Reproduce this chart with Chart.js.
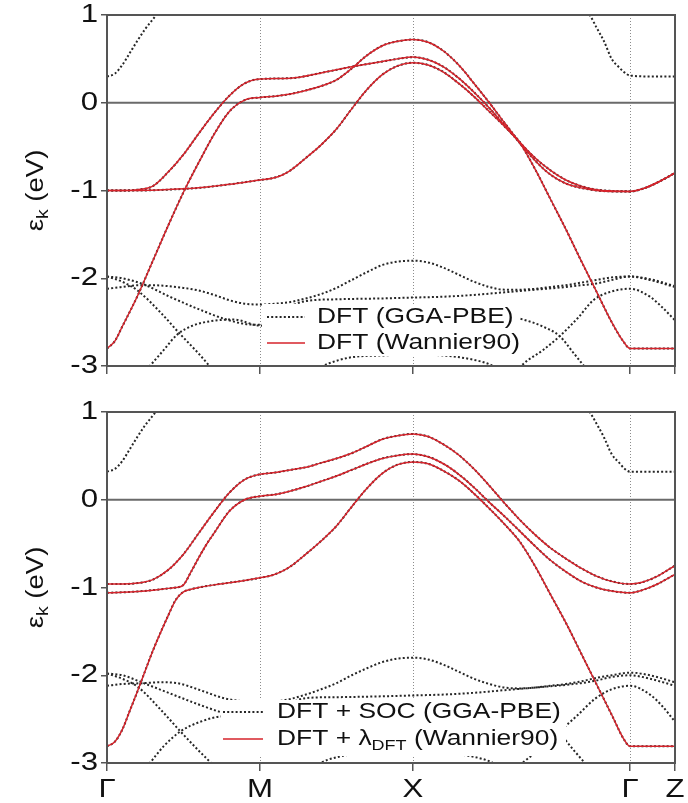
<!DOCTYPE html>
<html>
<head>
<meta charset="utf-8">
<title>Band structure</title>
<script src="https://cdn.jsdelivr.net/npm/chart.js@4.4.0/dist/chart.umd.min.js"></script>
<style>
  html, body { margin: 0; padding: 0; background: #fff; overflow: hidden; }
  canvas { display: block; }
</style>
</head>
<body>
<canvas id="bands-top" width="688" height="395"></canvas>
<canvas id="bands-bottom" width="688" height="408"></canvas>
<script>
// --- k-path and axes ---
const kTicks = [0, 1, 2, 3.42, 3.714];
const kLabels = ['Γ', 'M', 'X', 'Γ', 'Z'];
const yTicks = [-3, -2, -1, 0, 1];

// --- top panel: DFT (GGA-PBE), dotted ---
const topGgaC1 = [[0, 0.30], [0.05, 0.33], [0.1, 0.43], [0.15, 0.57], [0.2, 0.71], [0.25, 0.84], [0.3, 0.95], [0.35, 1.06]];
const topGgaC2 = [[3.12, 1.08], [3.16, 0.99], [3.2, 0.86], [3.25, 0.70], [3.3, 0.50], [3.35, 0.40], [3.38, 0.35], [3.42, 0.31], [3.55, 0.30], [3.714, 0.30]];
const topGgaV1 = [[0, -2.12], [0.1, -2.10], [0.2, -2.08], [0.3, -2.08], [0.4, -2.09], [0.5, -2.11], [0.6, -2.14], [0.7, -2.19], [0.8, -2.25], [0.9, -2.29], [1.0, -2.30], [1.1, -2.29], [1.2, -2.27], [1.3, -2.23], [1.4, -2.18], [1.5, -2.11], [1.6, -2.02], [1.7, -1.93], [1.8, -1.85], [1.9, -1.81], [2.0, -1.80], [2.1, -1.82], [2.2, -1.88], [2.3, -1.96], [2.4, -2.04], [2.5, -2.10], [2.6, -2.13], [2.7, -2.13], [2.8, -2.12], [2.9, -2.10], [3.0, -2.08], [3.1, -2.05], [3.2, -2.02], [3.3, -1.99], [3.42, -1.98], [3.55, -2.02], [3.714, -2.10]];
const topGgaV2 = [[0, -1.98], [0.1, -2.0], [0.24, -2.07], [0.41, -2.21], [0.61, -2.36], [0.78, -2.47], [0.9, -2.52], [1.0, -2.53], [1.1, -2.45], [1.2, -2.32], [1.3, -2.26], [1.5, -2.24], [1.8, -2.23], [2.0, -2.22], [2.2, -2.21], [2.4, -2.19], [2.6, -2.16], [2.8, -2.13], [3.0, -2.10], [3.1, -2.08], [3.2, -2.06], [3.3, -2.02], [3.42, -1.98], [3.55, -2.01], [3.714, -2.09]];
const topGgaV3 = [[0, -1.98], [0.1, -2.04], [0.2, -2.14], [0.35, -2.39], [0.48, -2.64], [0.6, -2.86], [0.68, -3.02], [0.72, -3.1]];
const topGgaV4 = [[0.24, -3.08], [0.28, -3.0], [0.37, -2.82], [0.46, -2.64], [0.56, -2.54], [0.675, -2.49], [0.83, -2.47], [1.0, -2.54], [1.5, -2.46], [2.0, -2.45], [2.3, -2.42], [2.6, -2.43], [2.72, -2.47], [2.85, -2.55], [2.96, -2.66], [3.05, -2.85], [3.11, -2.98], [3.15, -3.06]];
const topGgaV5 = [[2.68, -3.06], [2.72, -2.98], [2.85, -2.82], [2.96, -2.66], [3.08, -2.45], [3.18, -2.25], [3.3, -2.15], [3.42, -2.12], [3.55, -2.21], [3.63, -2.33], [3.714, -2.48]];
const topGgaV6 = [[1.35, -3.05], [1.45, -2.97], [1.6, -2.9], [1.8, -2.88], [2.0, -2.87], [2.2, -2.88], [2.4, -2.93], [2.5, -2.98], [2.58, -3.05]];

// --- top panel: DFT (Wannier90), red ---
const topWanA = [[0, -1.0], [0.1, -1.0], [0.2, -0.99], [0.3, -0.95], [0.4, -0.79], [0.5, -0.59], [0.6, -0.35], [0.7, -0.12], [0.8, 0.08], [0.9, 0.22], [1.0, 0.27], [1.2, 0.28], [1.4, 0.34], [1.6, 0.41], [1.8, 0.47], [1.9, 0.50], [2.0, 0.52], [2.1, 0.49], [2.2, 0.41], [2.3, 0.28], [2.4, 0.12], [2.5, -0.06], [2.6, -0.26], [2.7, -0.46], [2.8, -0.66], [2.9, -0.82], [3.0, -0.92], [3.1, -0.97], [3.2, -1.0], [3.3, -1.01], [3.42, -1.01], [3.52, -0.97], [3.62, -0.89], [3.714, -0.80]];
const topWanB = [[0, -2.8], [0.05, -2.72], [0.1, -2.55], [0.2, -2.2], [0.3, -1.8], [0.4, -1.4], [0.5, -1.02], [0.6, -0.68], [0.7, -0.36], [0.8, -0.10], [0.9, 0.03], [1.0, 0.06], [1.1, 0.075], [1.2, 0.10], [1.3, 0.14], [1.4, 0.19], [1.5, 0.26], [1.6, 0.39], [1.7, 0.54], [1.8, 0.65], [1.9, 0.70], [2.0, 0.72], [2.1, 0.69], [2.2, 0.59], [2.3, 0.43], [2.4, 0.22], [2.5, 0.0], [2.6, -0.23], [2.7, -0.45], [2.8, -0.63], [2.9, -0.77], [3.0, -0.88], [3.1, -0.95], [3.2, -0.99], [3.3, -1.005], [3.42, -1.01], [3.52, -0.97], [3.62, -0.89], [3.714, -0.80]];
const topWanC = [[0, -1.0], [0.2, -1.0], [0.4, -0.99], [0.6, -0.97], [0.8, -0.93], [1.0, -0.88], [1.08, -0.86], [1.15, -0.82], [1.2, -0.77], [1.3, -0.63], [1.4, -0.48], [1.5, -0.30], [1.6, -0.07], [1.7, 0.15], [1.8, 0.32], [1.9, 0.42], [2.0, 0.456], [2.1, 0.43], [2.2, 0.35], [2.3, 0.22], [2.4, 0.07], [2.5, -0.10], [2.6, -0.27], [2.7, -0.46], [2.8, -0.76], [2.9, -1.10], [3.0, -1.44], [3.1, -1.80], [3.2, -2.15], [3.3, -2.50], [3.38, -2.73], [3.42, -2.80], [3.714, -2.80]];

// --- bottom panel: DFT + SOC (GGA-PBE), dotted ---
const botGgaC1 = [[0, 0.32], [0.05, 0.35], [0.1, 0.44], [0.15, 0.58], [0.2, 0.72], [0.25, 0.85], [0.3, 0.96], [0.35, 1.07]];
const botGgaC2 = [[3.12, 1.08], [3.16, 0.99], [3.2, 0.87], [3.25, 0.71], [3.3, 0.52], [3.35, 0.42], [3.38, 0.36], [3.42, 0.32], [3.55, 0.32], [3.714, 0.32]];
const botGgaV1 = [[0, -2.12], [0.1, -2.10], [0.24, -2.09], [0.35, -2.08], [0.46, -2.09], [0.61, -2.17], [0.76, -2.26], [0.9, -2.30], [1.0, -2.31], [1.1, -2.30], [1.2, -2.27], [1.3, -2.22], [1.4, -2.16], [1.5, -2.09], [1.6, -2.00], [1.7, -1.92], [1.8, -1.85], [1.9, -1.81], [2.0, -1.80], [2.1, -1.82], [2.2, -1.88], [2.3, -1.96], [2.4, -2.04], [2.5, -2.10], [2.6, -2.14], [2.7, -2.15], [2.8, -2.14], [2.9, -2.12], [3.0, -2.10], [3.1, -2.07], [3.2, -2.03], [3.3, -2.0], [3.42, -1.97], [3.55, -2.0], [3.714, -2.08]];
const botGgaV2 = [[0, -1.98], [0.1, -2.0], [0.24, -2.09], [0.46, -2.24], [0.61, -2.34], [0.76, -2.43], [0.9, -2.5], [1.0, -2.52], [1.1, -2.44], [1.2, -2.32], [1.3, -2.26], [1.5, -2.25], [1.8, -2.24], [2.0, -2.23], [2.2, -2.22], [2.4, -2.20], [2.6, -2.17], [2.8, -2.14], [3.0, -2.11], [3.1, -2.09], [3.2, -2.06], [3.3, -2.02], [3.42, -2.0], [3.55, -2.04], [3.714, -2.12]];
const botGgaV3 = [[0, -1.98], [0.1, -2.04], [0.2, -2.13], [0.35, -2.39], [0.48, -2.64], [0.6, -2.86], [0.68, -3.0], [0.72, -3.08]];
const botGgaV4 = [[0.24, -3.08], [0.28, -3.0], [0.37, -2.81], [0.48, -2.64], [0.61, -2.53], [0.76, -2.47], [1.0, -2.52], [1.5, -2.46], [2.0, -2.45], [2.3, -2.43], [2.6, -2.43], [2.72, -2.47], [2.85, -2.56], [2.96, -2.67], [3.05, -2.85], [3.12, -2.99], [3.16, -3.06]];
const botGgaV5 = [[2.68, -3.06], [2.73, -2.98], [2.85, -2.82], [2.96, -2.64], [3.08, -2.45], [3.19, -2.27], [3.3, -2.16], [3.42, -2.12], [3.55, -2.22], [3.63, -2.35], [3.714, -2.53]];
const botGgaV6 = [[1.33, -3.05], [1.45, -2.96], [1.6, -2.9], [1.8, -2.87], [2.0, -2.86], [2.2, -2.88], [2.4, -2.93], [2.5, -2.98], [2.58, -3.05]];

// --- bottom panel: DFT + lambda_DFT (Wannier90), red ---
const botWanA = [[0, -0.96], [0.1, -0.96], [0.2, -0.95], [0.3, -0.91], [0.4, -0.80], [0.5, -0.62], [0.6, -0.38], [0.7, -0.14], [0.8, 0.08], [0.9, 0.23], [1.0, 0.29], [1.1, 0.31], [1.2, 0.34], [1.3, 0.37], [1.4, 0.42], [1.5, 0.47], [1.6, 0.53], [1.7, 0.61], [1.8, 0.69], [1.9, 0.73], [2.0, 0.75], [2.1, 0.72], [2.2, 0.63], [2.3, 0.51], [2.4, 0.35], [2.5, 0.16], [2.6, -0.04], [2.7, -0.23], [2.8, -0.40], [2.9, -0.55], [3.0, -0.67], [3.1, -0.78], [3.2, -0.87], [3.3, -0.93], [3.42, -0.96], [3.5, -0.94], [3.6, -0.87], [3.714, -0.75]];
const botWanB = [[0, -1.06], [0.1, -1.055], [0.2, -1.045], [0.3, -1.03], [0.4, -1.01], [0.45, -1.0], [0.5, -0.97], [0.55, -0.82], [0.6, -0.66], [0.65, -0.51], [0.7, -0.38], [0.8, -0.13], [0.9, 0.0], [1.0, 0.04], [1.1, 0.06], [1.2, 0.10], [1.3, 0.15], [1.4, 0.21], [1.5, 0.27], [1.6, 0.34], [1.7, 0.41], [1.8, 0.47], [1.9, 0.505], [2.0, 0.52], [2.1, 0.49], [2.2, 0.41], [2.3, 0.29], [2.4, 0.14], [2.5, -0.03], [2.6, -0.19], [2.7, -0.36], [2.8, -0.53], [2.9, -0.69], [3.0, -0.82], [3.1, -0.93], [3.2, -1.0], [3.3, -1.04], [3.42, -1.06], [3.5, -1.03], [3.6, -0.96], [3.714, -0.85]];
const botWanC = [[0, -2.81], [0.05, -2.76], [0.1, -2.62], [0.15, -2.40], [0.2, -2.18], [0.3, -1.72], [0.4, -1.32], [0.45, -1.14], [0.5, -1.05], [0.55, -1.02], [0.6, -1.0], [0.7, -0.97], [0.8, -0.945], [0.9, -0.92], [1.0, -0.89], [1.08, -0.86], [1.15, -0.81], [1.2, -0.76], [1.3, -0.62], [1.4, -0.47], [1.5, -0.30], [1.6, -0.08], [1.7, 0.13], [1.8, 0.30], [1.9, 0.40], [2.0, 0.43], [2.1, 0.41], [2.2, 0.33], [2.3, 0.22], [2.4, 0.07], [2.5, -0.10], [2.6, -0.28], [2.7, -0.48], [2.8, -0.76], [2.9, -1.08], [3.0, -1.40], [3.1, -1.75], [3.2, -2.10], [3.3, -2.45], [3.38, -2.73], [3.42, -2.81], [3.714, -2.81]];

// --- texts ---
const yTitle = [{ t: 'ε' }, { t: 'k', sub: true }, { t: ' (eV)' }];
const topLegend = [[{ t: 'DFT (GGA-PBE)' }], [{ t: 'DFT (Wannier90)' }]];
const botLegend = [[{ t: 'DFT + SOC (GGA-PBE)' }], [{ t: 'DFT + λ' }, { t: 'DFT', sub: true }, { t: ' (Wannier90)' }]];

const FAMILY = "'Liberation Sans', Arial, Helvetica, sans-serif";
const STRETCH = 1.2;   // the original figure uses a widened Helvetica
const RED = '#d6232b';
const DOT = '#262626';

const toXY = pts => pts.map(([x, y]) => ({ x, y }));
const dotted = pts => ({ data: toXY(pts), borderColor: DOT, borderWidth: 2, borderDash: [2, 2.2], order: 1 });
const solid = pts => ({ data: toXY(pts), borderColor: RED, borderWidth: 1.5, order: 0 });

// draws a run of text segments (with subscripts), widened like the original font
function drawRich(ctx, segs, x, y, size, align) {
  const parts = segs.map(s => {
    ctx.font = `${s.sub ? Math.round(size * 0.68) : size}px ${FAMILY}`;
    return { t: s.t, sub: s.sub, font: ctx.font, w: ctx.measureText(s.t).width * STRETCH };
  });
  const total = parts.reduce((sum, p) => sum + p.w, 0);
  let cx = align === 'center' ? x - total / 2 : align === 'right' ? x - total : x;
  parts.forEach(p => {
    ctx.save();
    ctx.font = p.font;
    ctx.translate(cx, y + (p.sub ? size * 0.3 : 0));
    ctx.scale(STRETCH, 1);
    ctx.fillText(p.t, 0, 0);
    ctx.restore();
    cx += p.w;
  });
}

const bandDecor = {
  id: 'bandDecor',
  beforeDatasetsDraw(chart) {
    const { ctx, chartArea: a, scales: { x, y } } = chart;
    ctx.save();
    // dotted guides at the inner high-symmetry points
    ctx.strokeStyle = '#8c8c8c';
    ctx.lineWidth = 1;
    ctx.setLineDash([1, 2]);
    kTicks.slice(1, -1).forEach(k => {
      const px = Math.round(x.getPixelForValue(k)) + 0.5;
      ctx.beginPath();
      ctx.moveTo(px, a.top);
      ctx.lineTo(px, a.bottom);
      ctx.stroke();
    });
    // Fermi level
    ctx.setLineDash([]);
    ctx.strokeStyle = '#6a6a6a';
    ctx.lineWidth = 2;
    const y0 = y.getPixelForValue(0);
    ctx.beginPath();
    ctx.moveTo(a.left, y0);
    ctx.lineTo(a.right, y0);
    ctx.stroke();
    ctx.restore();
  },
  afterDatasetsDraw(chart, args, opts) {
    const { ctx, chartArea: a, scales: { x, y } } = chart;
    const lg = opts.legend;
    ctx.save();

    // legend (opaque box, as in the original)
    ctx.fillStyle = '#fff';
    ctx.fillRect(lg.box[0], lg.box[1], lg.box[2], lg.box[3]);
    lg.rows.forEach((row, i) => {
      const ry = lg.y + i * lg.dy;
      ctx.beginPath();
      ctx.moveTo(lg.x0, ry);
      ctx.lineTo(lg.x1, ry);
      if (i === 0) {
        ctx.strokeStyle = DOT; ctx.lineWidth = 2; ctx.setLineDash([2, 2.2]);
      } else {
        ctx.strokeStyle = RED; ctx.lineWidth = 1.5; ctx.setLineDash([]);
      }
      ctx.stroke();
      ctx.setLineDash([]);
      ctx.fillStyle = '#111';
      ctx.textBaseline = 'middle';
      drawRich(ctx, row, lg.textX, ry, 22, 'left');
    });

    // frame
    ctx.strokeStyle = '#555';
    ctx.lineWidth = 2;
    ctx.strokeRect(a.left, a.top, a.right - a.left, a.bottom - a.top);

    // tick labels
    ctx.fillStyle = '#111';
    ctx.textBaseline = 'middle';
    y.ticks.forEach(t => {
      drawRich(ctx, [{ t: String(t.value) }], a.left - 9, y.getPixelForValue(t.value), 26, 'right');
    });
    if (opts.kLabelY) {
      x.ticks.forEach((t, i) => {
        drawRich(ctx, [{ t: kLabels[i] }], x.getPixelForValue(t.value), opts.kLabelY, 26, 'center');
      });
    }

    // y axis title
    ctx.translate(37, (a.top + a.bottom) / 2);
    ctx.rotate(-Math.PI / 2);
    drawRich(ctx, yTitle, 0, 0, 23, 'center');
    ctx.restore();
  }
};

function makePanel(id, datasets, panel) {
  return new Chart(document.getElementById(id), {
    type: 'line',
    data: { datasets },
    options: {
      responsive: false,
      animation: false,
      events: [],
      elements: {
        point: { radius: 0 },
        line: { fill: false, cubicInterpolationMode: 'monotone' }
      },
      layout: { padding: { top: panel.padTop, right: 13, left: 0, bottom: 0 } },
      scales: {
        x: {
          type: 'linear',
          min: kTicks[0],
          max: kTicks[kTicks.length - 1],
          afterBuildTicks: s => { s.ticks = kTicks.map(v => ({ value: v })); },
          afterFit: s => { s.height = panel.axisHeight; },
          ticks: { display: false },
          grid: { drawOnChartArea: false, drawTicks: true, tickLength: 8, color: '#555', lineWidth: 1.5 },
          border: { display: false }
        },
        y: {
          type: 'linear',
          min: yTicks[0],
          max: yTicks[yTicks.length - 1],
          afterBuildTicks: s => { s.ticks = yTicks.map(v => ({ value: v })); },
          afterFit: s => { s.width = 107; },
          ticks: { display: false },
          grid: { drawOnChartArea: false, drawTicks: true, tickLength: 6, color: '#555', lineWidth: 1.5 },
          border: { display: false }
        }
      },
      plugins: {
        legend: { display: false },
        tooltip: { enabled: false },
        bandDecor: panel.decor
      }
    },
    plugins: [bandDecor]
  });
}

const topWannier = [topWanA, topWanB, topWanC];
const topGga = [topGgaC1, topGgaC2, topGgaV1, topGgaV2, topGgaV3, topGgaV4, topGgaV5, topGgaV6, ...topWannier];
const botWannier = [botWanA, botWanB, botWanC];
const botGga = [botGgaC1, botGgaC2, botGgaV1, botGgaV2, botGgaV3, botGgaV4, botGgaV5, botGgaV6, ...botWannier];

makePanel('bands-top', [...topGga.map(dotted), ...topWannier.map(solid)], {
  padTop: 15,
  axisHeight: 29,
  decor: {
    legend: { box: [262, 304, 258, 52], x0: 267, x1: 305, textX: 317, y: 317, dy: 26, rows: topLegend },
    kLabelY: null
  }
});

makePanel('bands-bottom', [...botGga.map(dotted), ...botWannier.map(solid)], {
  padTop: 17,
  axisHeight: 40,
  decor: {
    legend: { box: [221, 305, 345, 56], x0: 223, x1: 263, textX: 277, y: 317, dy: 27, rows: botLegend },
    kLabelY: 395
  }
});
</script>
</body>
</html>
